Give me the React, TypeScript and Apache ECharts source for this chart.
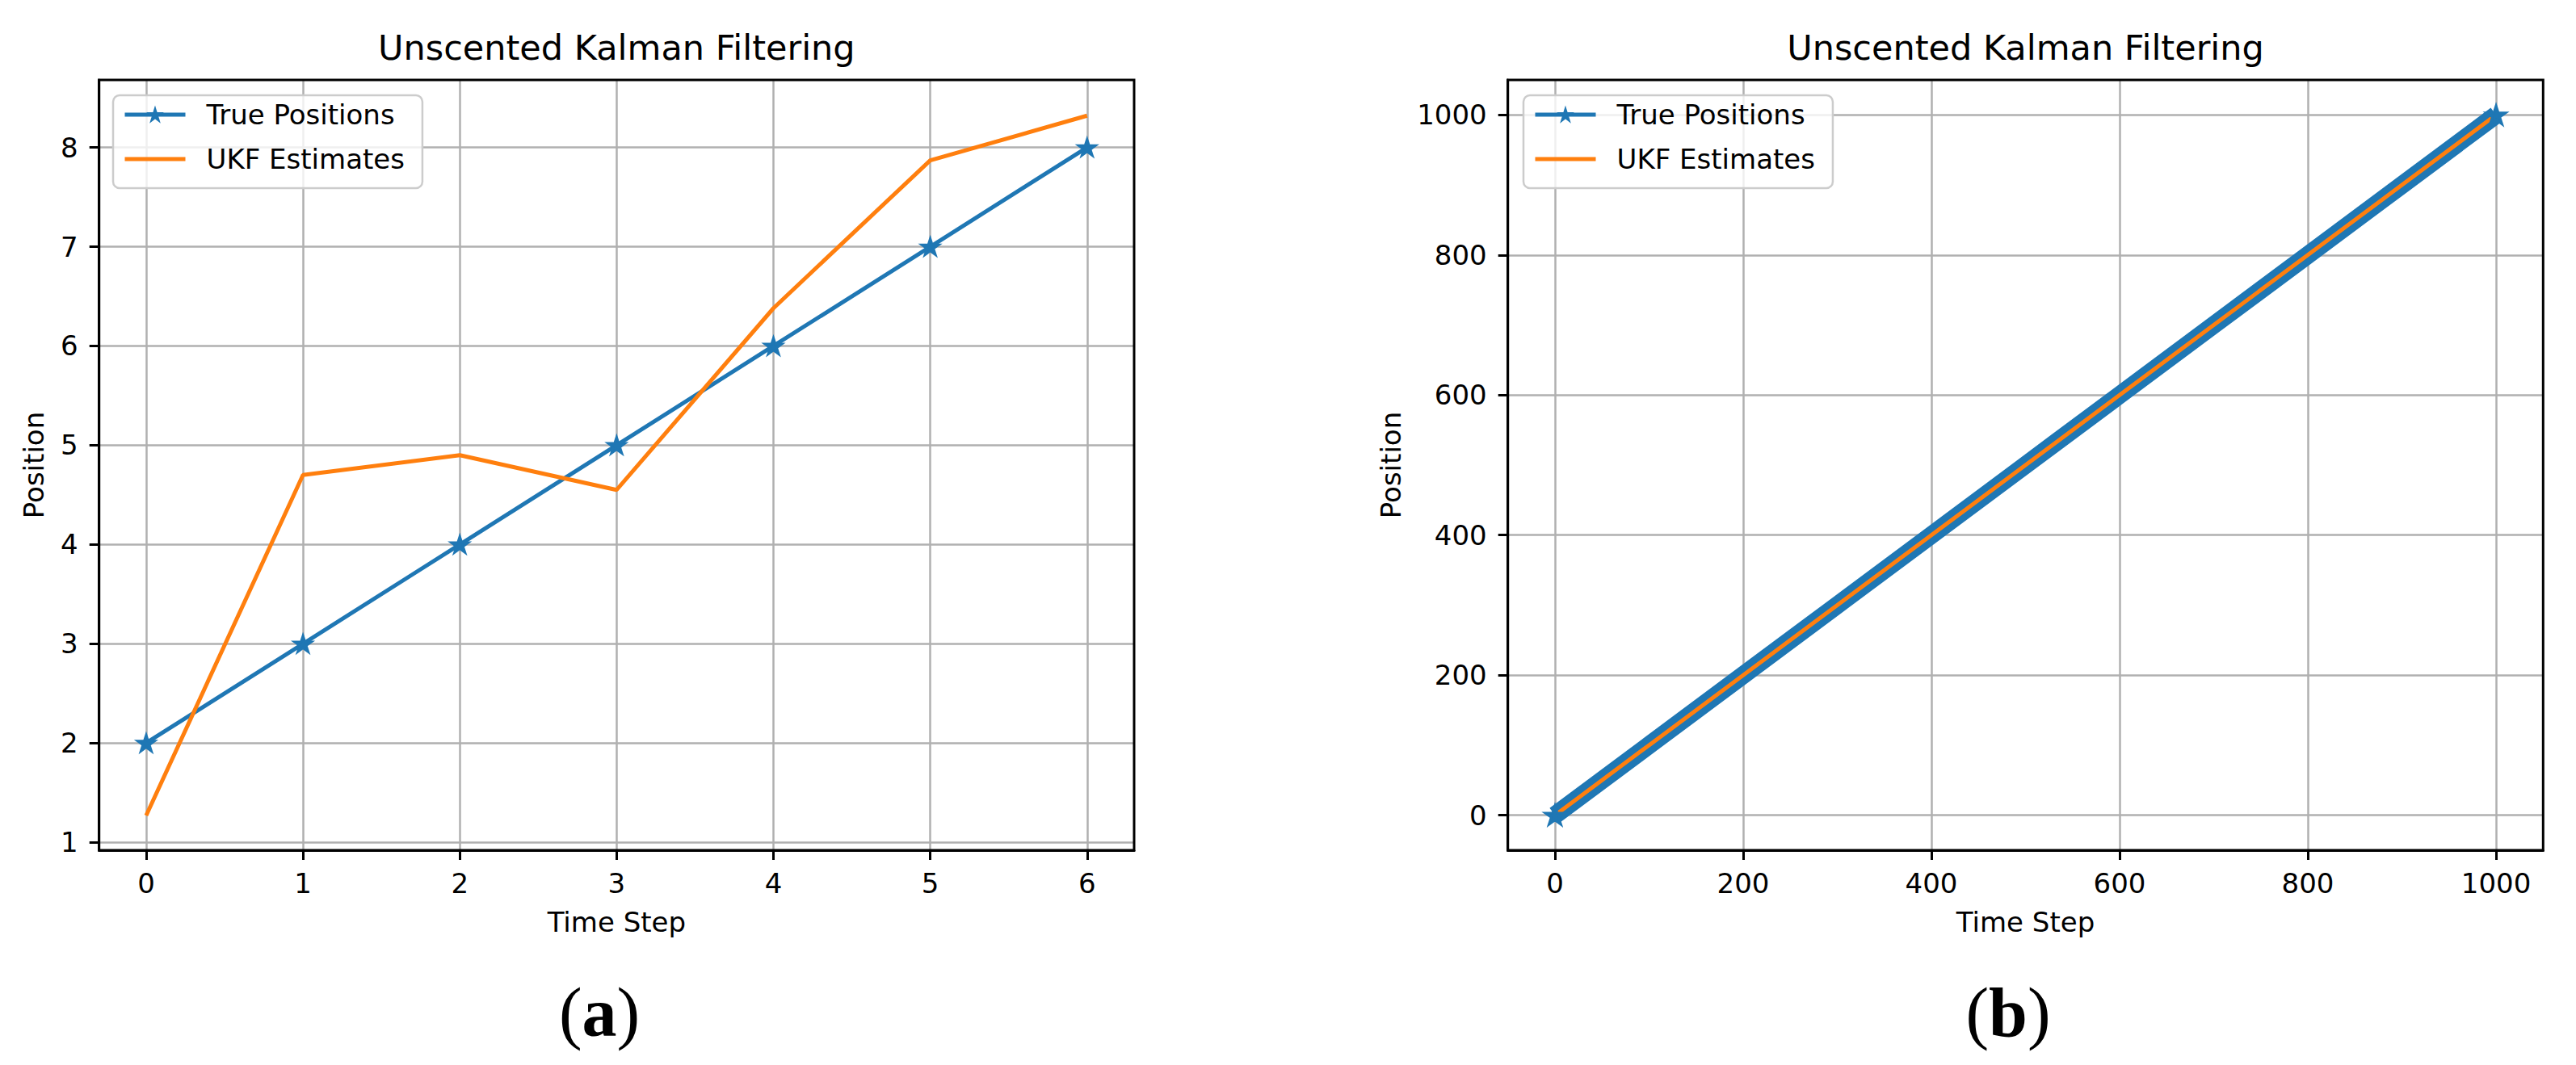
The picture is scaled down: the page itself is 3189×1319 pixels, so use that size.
import React, { useEffect, useRef } from 'react';
import * as echarts from 'echarts';

// ---- data ----
const leftSteps = [0, 1, 2, 3, 4, 5, 6];
const leftTrue = [2, 3, 4, 5, 6, 7, 8];
const leftUKF = [1.27, 4.7, 4.9, 4.55, 6.38, 7.87, 8.32];
const leftXTicks = [0, 1, 2, 3, 4, 5, 6];
const leftYTicks = [1, 2, 3, 4, 5, 6, 7, 8];

const rightSteps = [0, 100, 200, 300, 400, 500, 600, 700, 800, 900, 1000];
const rightTrue = [0, 100, 200, 300, 400, 500, 600, 700, 800, 900, 1000];
const rightUKF = [0, 100, 200, 300, 400, 500, 600, 700, 800, 900, 1000];
const rightXTicks = [0, 200, 400, 600, 800, 1000];
const rightYTicks = [0, 200, 400, 600, 800, 1000];

const TITLE = 'Unscented Kalman Filtering';
const BLUE = '#1f77b4';
const ORANGE = '#ff7f0e';
const FONT = 'DejaVu Sans';
const STAR =
  'path://M0,-10 L2.245,-3.09 L9.51,-3.09 L3.63,1.18 L5.88,8.09 L0,3.82 L-5.88,8.09 L-3.63,1.18 L-9.51,-3.09 L-2.245,-3.09 Z';

const GRIDS = [
  { left: 122.7, top: 99, width: 1281.3, height: 954 },
  { left: 1866.7, top: 99, width: 1281.6, height: 954 },
];

function makeAxis(
  gridIndex: number,
  min: number,
  max: number,
  step: number,
  ticks: number[],
  isX: boolean,
  nameGap: number,
) {
  return {
    type: 'value',
    gridIndex,
    min,
    max,
    minInterval: step,
    maxInterval: step,
    name: isX ? 'Time Step' : 'Position',
    nameLocation: 'middle',
    nameGap,
    nameRotate: isX ? 0 : 90,
    nameTextStyle: { fontFamily: FONT, fontSize: 34, color: '#000' },
    axisLine: { show: true, onZero: false, lineStyle: { color: '#000', width: 3 } },
    axisTick: {
      show: true,
      inside: false,
      length: 12,
      customValues: ticks,
      lineStyle: { color: '#000', width: 3 },
    },
    axisLabel: {
      show: true,
      customValues: ticks,
      margin: isX ? 24 : 26,
      fontFamily: FONT,
      fontSize: 34,
      color: '#000',
      formatter: (v: number) => String(v),
    },
    splitLine: { show: true, lineStyle: { color: '#b0b0b0', width: 2.5 } },
  };
}

function makeLegend(left: number) {
  return {
    left,
    top: 118,
    orient: 'vertical',
    selectedMode: false,
    itemWidth: 75,
    itemHeight: 20,
    itemGap: 21,
    padding: [7, 22, 19, 12],
    backgroundColor: 'rgba(255,255,255,0.8)',
    borderColor: '#cccccc',
    borderWidth: 2.5,
    borderRadius: 8,
    lineStyle: { width: 5 },
    textStyle: {
      fontFamily: FONT,
      fontSize: 34,
      color: '#000',
      lineHeight: 34,
      padding: [0, 0, 0, 21],
    },
    data: [
      { name: 'True Positions' },
      {
        name: 'UKF Estimates',
        itemStyle: { color: 'rgba(0,0,0,0)', borderWidth: 0 },
        lineStyle: { color: ORANGE, width: 5 },
      },
    ],
  };
}

export default function App() {
  const ref = useRef<HTMLDivElement>(null);

  useEffect(() => {
    if (!ref.current) return;
    const chart = echarts.init(ref.current, null, { renderer: 'svg' });
    const lastRight = rightSteps.length - 1;

    const option: any = {
      animation: false,
      backgroundColor: '#ffffff',
      grid: GRIDS.map((g) => ({ ...g, containLabel: false, show: false })),
      xAxis: [
        makeAxis(0, -0.3, 6.3, 1, leftXTicks, true, 72),
        makeAxis(1, -50, 1050, 200, rightXTicks, true, 72),
      ],
      yAxis: [
        makeAxis(0, 0.92, 8.68, 1, leftYTicks, false, 64),
        makeAxis(1, -50, 1050, 200, rightYTicks, false, 128),
      ],
      legend: [makeLegend(140), makeLegend(1886)],
      series: [
        {
          name: 'True Positions',
          type: 'line',
          xAxisIndex: 0,
          yAxisIndex: 0,
          data: leftSteps.map((x, i) => [x, leftTrue[i]]),
          symbol: STAR,
          symbolSize: 21,
          symbolKeepAspect: true,
          showAllSymbol: true,
          lineStyle: { color: BLUE, width: 5 },
          itemStyle: { color: BLUE, borderColor: BLUE, borderWidth: 3 },
        },
        {
          name: 'UKF Estimates',
          type: 'line',
          xAxisIndex: 0,
          yAxisIndex: 0,
          data: leftSteps.map((x, i) => [x, leftUKF[i]]),
          symbol: 'none',
          lineStyle: { color: ORANGE, width: 5 },
          itemStyle: { color: ORANGE },
        },
        {
          name: 'True Positions',
          type: 'line',
          xAxisIndex: 1,
          yAxisIndex: 1,
          data: rightSteps.map((x, i) => [x, rightTrue[i]]),
          symbol: STAR,
          symbolKeepAspect: true,
          showAllSymbol: true,
          symbolSize: (_v: any, p: any) =>
            p.dataIndex === 0 || p.dataIndex === lastRight ? 24 : 0,
          lineStyle: { color: BLUE, width: 22 },
          itemStyle: { color: BLUE, borderColor: BLUE, borderWidth: 3 },
        },
        {
          name: 'UKF Estimates',
          type: 'line',
          xAxisIndex: 1,
          yAxisIndex: 1,
          data: rightSteps.map((x, i) => [x, rightUKF[i]]),
          symbol: 'none',
          lineStyle: { color: ORANGE, width: 5 },
          itemStyle: { color: ORANGE },
        },
      ],
      graphic: [
        ...GRIDS.map((g) => ({
          type: 'rect',
          z: 50,
          silent: true,
          shape: { x: g.left, y: g.top, width: g.width, height: g.height },
          style: { fill: 'none', stroke: '#000', lineWidth: 3 },
        })),
        ...GRIDS.map((g) => ({
          type: 'text',
          z: 50,
          x: g.left + g.width / 2,
          y: 59,
          style: {
            text: TITLE,
            fontFamily: FONT,
            fontSize: 43,
            fill: '#000',
            textAlign: 'center',
            textVerticalAlign: 'middle',
          },
        })),
        ...['a', 'b'].map((letter, i) => ({
          type: 'text',
          z: 50,
          x: i === 0 ? 742 : 2486,
          y: 1254,
          style: {
            text: '{p|(}{b|' + letter + '}{p|)}',
            fontFamily: 'Liberation Serif',
            fontSize: 86,
            fill: '#000',
            textAlign: 'center',
            textVerticalAlign: 'middle',
            rich: {
              p: { fontFamily: 'Liberation Serif', fontSize: 86, fontWeight: 'normal', fill: '#000' },
              b: { fontFamily: 'Liberation Serif', fontSize: 86, fontWeight: 'bold', fill: '#000' },
            },
          },
        })),
      ],
    };

    chart.setOption(option);
    return () => chart.dispose();
  }, []);

  return (
    <div
      ref={ref}
      style={{ position: 'fixed', left: 0, top: 0, width: 3189, height: 1319, background: '#fff' }}
    />
  );
}
